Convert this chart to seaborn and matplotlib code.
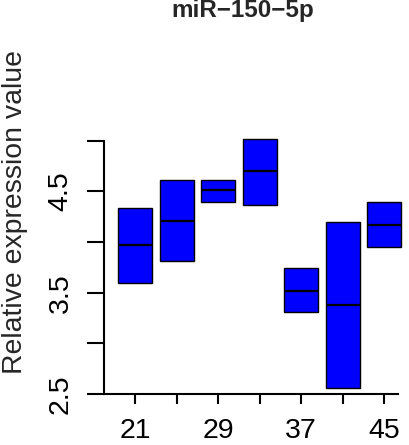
import matplotlib
matplotlib.use("Agg")
import matplotlib.pyplot as plt
import seaborn as sns
import pandas as pd

# Age groups and box statistics for miR-150-5p
ages = [21, 25, 29, 33, 37, 41, 45]
lower_q = [3.60, 3.81, 4.40, 4.37, 3.31, 2.56, 3.95]
medians = [3.97, 4.21, 4.51, 4.70, 3.52, 3.38, 4.17]
upper_q = [4.34, 4.61, 4.61, 5.02, 3.74, 4.20, 4.40]
x_tick_labels = ["21", "", "29", "", "37", "", "45"]
y_ticks = [2.5, 3.0, 3.5, 4.0, 4.5, 5.0]
y_tick_labels = ["2.5", "", "3.5", "", "4.5", ""]

# Five values per group whose quartiles reproduce the box edges and median
rows = []
for age, lo, md, hi in zip(ages, lower_q, medians, upper_q):
    for v in (lo, lo, md, hi, hi):
        rows.append({"age": str(age), "value": v})
df = pd.DataFrame(rows)

sns.set_style("white")
plt.rcParams["font.family"] = ["Liberation Sans", "DejaVu Sans"]

W, H = 410, 445
fig = plt.figure(figsize=(W / 100, H / 100), dpi=100)

px_per_cat = 41.55
xlim = (-0.746, 6.45)
ylim = (2.5, 5.05)
px_per_unit = 101.3
left_px, bottom_px = 104, 394
ax_w = (xlim[1] - xlim[0]) * px_per_cat
ax_h = (ylim[1] - ylim[0]) * px_per_unit
ax = fig.add_axes([left_px / W, (H - bottom_px) / H, ax_w / W, ax_h / H])

sns.boxplot(
    data=df, x="age", y="value", ax=ax,
    color="#0000FF", saturation=1, width=0.82,
    linecolor="black", linewidth=1.0,
    showfliers=False, showcaps=False,
    medianprops={"color": "black", "linewidth": 1.6},
    whiskerprops={"linewidth": 0},
)

ax.set_xlim(*xlim)
ax.set_ylim(*ylim)
ax.set_xlabel("")
ax.set_ylabel("")

ax.set_xticks(range(len(ages)))
ax.set_xticklabels(x_tick_labels, fontsize=20.5)
ax.set_yticks(y_ticks)
ax.set_yticklabels(y_tick_labels, fontsize=20.5, rotation=90, va="center")

for side in ("top", "right"):
    ax.spines[side].set_visible(False)
for side in ("left", "bottom"):
    ax.spines[side].set_linewidth(1.5)
    ax.spines[side].set_color("black")
ax.spines["left"].set_bounds(2.5, 5.0)
ax.spines["bottom"].set_bounds(-0.746, 6.33)

ax.tick_params(axis="x", bottom=True, length=7, width=1.5, pad=10, colors="black")
ax.tick_params(axis="y", left=True, length=12, width=1.5, pad=10, colors="black")

fig.text(242.5 / W, 1 - 11 / H, "miR\u2212150\u22125p", ha="center", va="center",
         fontsize=17.5, fontweight="bold")
fig.text(15 / W, 1 - 211.5 / H, "Relative expression value", ha="center",
         va="center", rotation=90, fontsize=20.4)

fig.savefig("out.png", dpi=100)
